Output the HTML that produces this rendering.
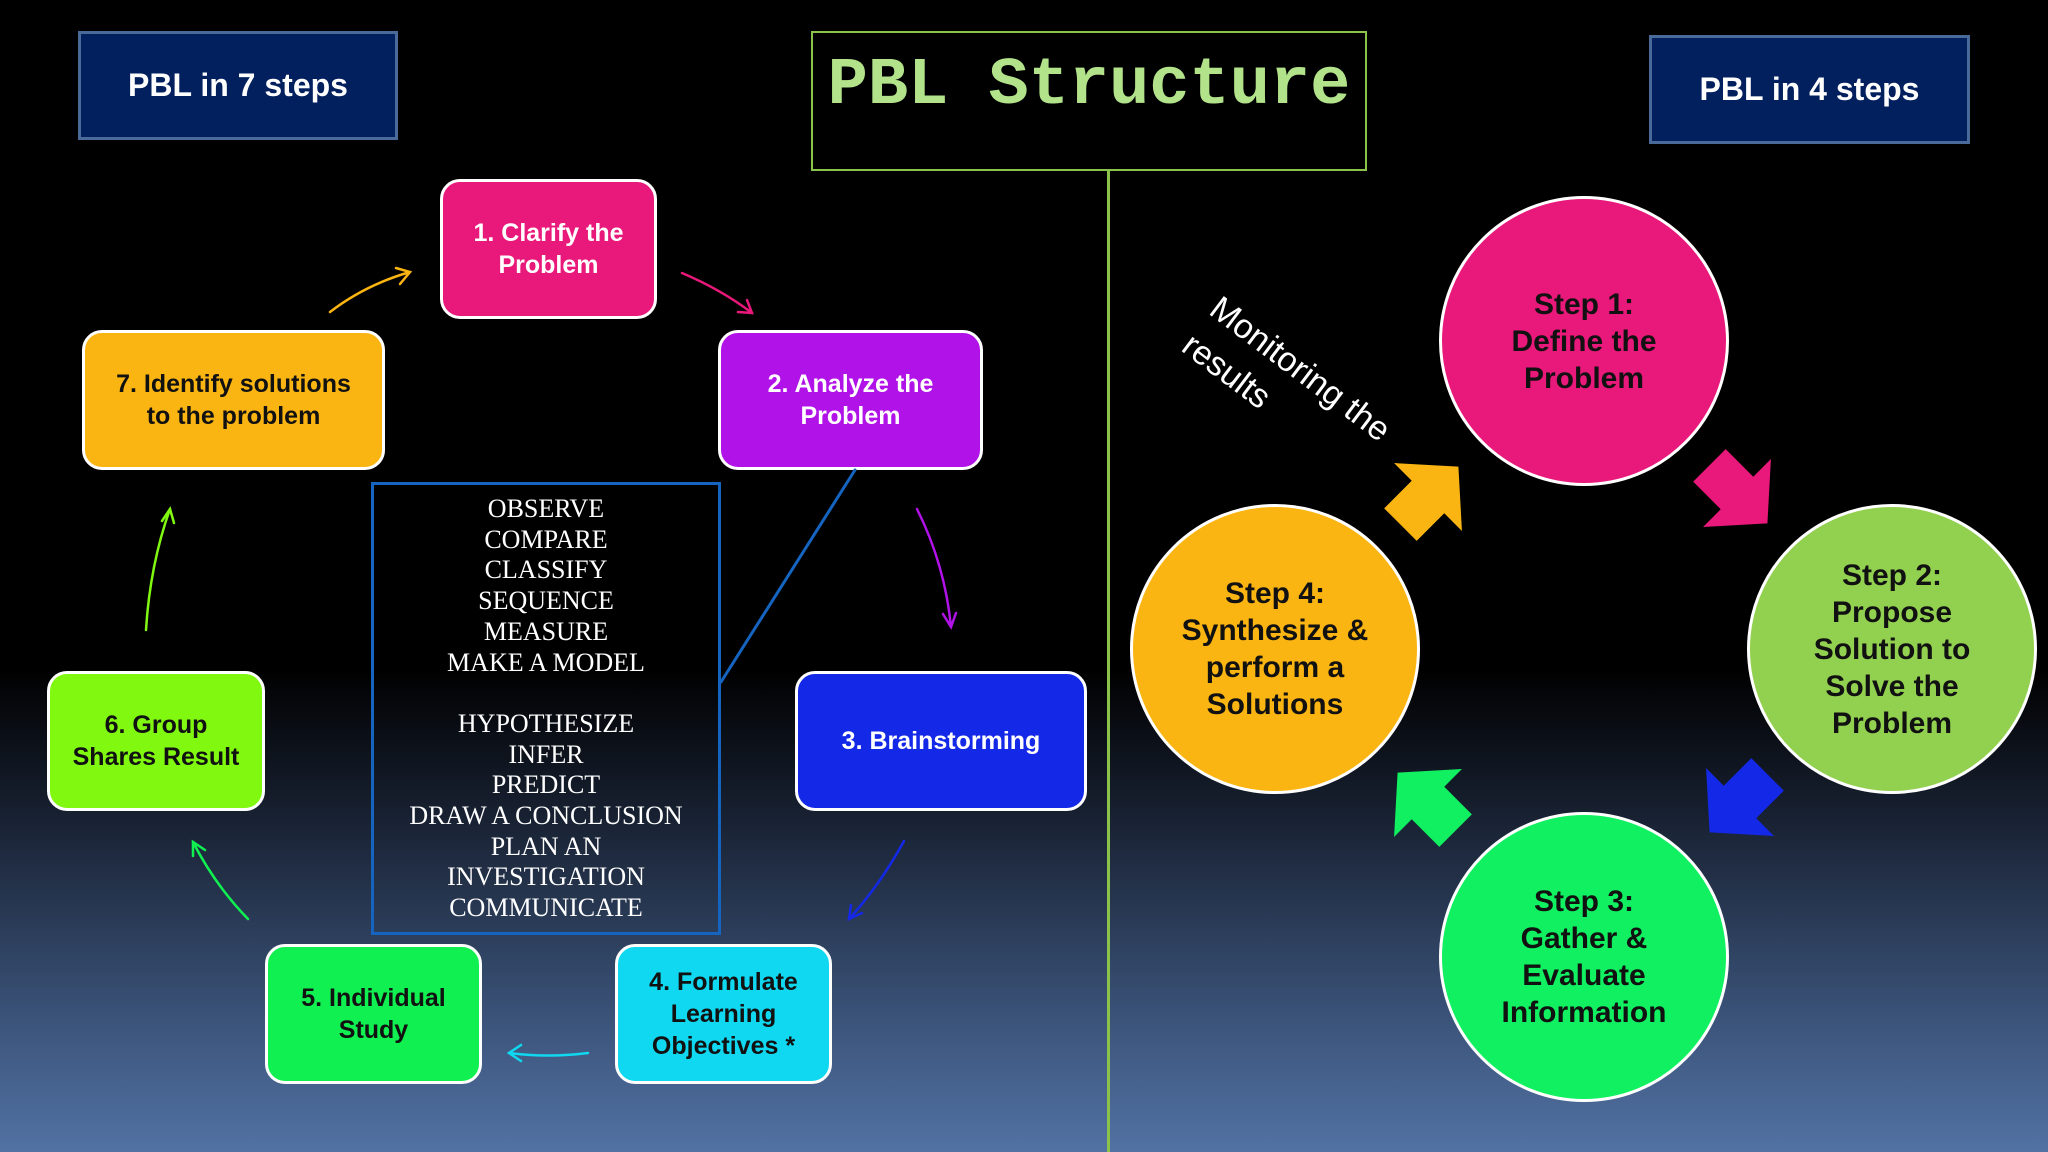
<!DOCTYPE html>
<html><head><meta charset="utf-8"><style>
html,body{margin:0;padding:0}
body{width:2048px;height:1152px;position:relative;overflow:hidden;font-family:"Liberation Sans",sans-serif;
background:linear-gradient(to bottom,#000 0%,#000 58%,#1a2436 72%,#3a5278 88%,#5272a4 100%);}
.hdr{position:absolute;background:#03205e;border:3px solid #4a6a9a;color:#fff;font-weight:bold;font-size:32px;display:flex;align-items:center;justify-content:center;box-sizing:border-box}
.box{position:absolute;border:3px solid #fff;border-radius:20px;box-sizing:border-box;display:flex;align-items:center;justify-content:center;text-align:center;font-weight:bold;font-size:25px;line-height:32px}
.circ{position:absolute;width:290px;height:290px;border-radius:50%;border:3px solid #fff;box-sizing:border-box;display:flex;align-items:center;justify-content:center;text-align:center;font-weight:bold;font-size:30px;line-height:37px;color:#111}
</style></head><body>
<div class="hdr" style="left:78px;top:31px;width:320px;height:109px">PBL in 7 steps</div>
<div class="hdr" style="left:1649px;top:35px;width:321px;height:109px">PBL in 4 steps</div>
<div style="position:absolute;left:811px;top:31px;width:556px;height:140px;border:2px solid #8bc34a;box-sizing:border-box;display:flex;align-items:center;justify-content:center;font-family:'Liberation Mono',monospace;font-weight:bold;font-size:67px;color:#b2e38a;padding-bottom:30px">PBL Structure</div>
<div style="position:absolute;left:1107px;top:171px;width:3px;height:981px;background:#8bc34a"></div>

<div class="box" style="left:440px;top:179px;width:217px;height:140px;background:#e8197a;color:#fff">1. Clarify the<br>Problem</div>
<div class="box" style="left:718px;top:330px;width:265px;height:140px;background:#b012e8;color:#fff">2. Analyze the<br>Problem</div>
<div class="box" style="left:82px;top:330px;width:303px;height:140px;background:#fbb512;color:#111">7. Identify solutions<br>to the problem</div>
<div class="box" style="left:795px;top:671px;width:292px;height:140px;background:#1428e8;color:#fff">3. Brainstorming</div>
<div class="box" style="left:47px;top:671px;width:218px;height:140px;background:#80f810;color:#111">6. Group<br>Shares Result</div>
<div class="box" style="left:265px;top:944px;width:217px;height:140px;background:#10f050;color:#111">5. Individual<br>Study</div>
<div class="box" style="left:615px;top:944px;width:217px;height:140px;background:#10d8f0;color:#111">4. Formulate<br>Learning<br>Objectives *</div>

<div style="position:absolute;left:371px;top:482px;width:350px;height:453px;border:3px solid #1464c0;box-sizing:border-box;padding-top:9px;text-align:center;color:#fff;font-family:'Liberation Serif',serif;font-size:26px;line-height:30.7px">OBSERVE<br>COMPARE<br>CLASSIFY<br>SEQUENCE<br>MEASURE<br>MAKE A MODEL<br><br>HYPOTHESIZE<br>INFER<br>PREDICT<br>DRAW A CONCLUSION<br>PLAN AN<br>INVESTIGATION<br>COMMUNICATE</div>

<svg width="2048" height="1152" style="position:absolute;left:0;top:0" xmlns="http://www.w3.org/2000/svg">
<g fill="none" stroke-width="2.5" stroke-linecap="round">
<line x1="855" y1="470" x2="721" y2="682" stroke="#1464c0" stroke-width="3"/>
<path d="M330 312 Q365 285 410 272" stroke="#fbb512"/><path d="M396 268 L410 272 L400 284" stroke="#fbb512"/>
<path d="M682 273 Q722 290 752 313" stroke="#e8197a"/><path d="M738 312 L752 313 L747 300" stroke="#e8197a"/>
<path d="M917 509 Q945 565 951 627" stroke="#b012e8"/><path d="M943 614 L951 627 L956 613" stroke="#b012e8"/>
<path d="M904 841 Q880 885 849 919" stroke="#1428e8"/><path d="M851 905 L849 919 L862 913" stroke="#1428e8"/>
<path d="M588 1053 Q548 1058 509 1053" stroke="#10d8f0"/><path d="M521 1045 L509 1053 L521 1061" stroke="#10d8f0"/>
<path d="M248 919 Q215 885 193 842" stroke="#10f050"/><path d="M193 856 L193 842 L205 850" stroke="#10f050"/>
<path d="M146 630 Q150 565 170 509" stroke="#80f810"/><path d="M162 521 L170 509 L174 523" stroke="#80f810"/>
</g>
<g>
<polygon transform="translate(1737,493) rotate(45)" points="-39,-23 0,-23 0,-48 43,0 0,48 0,23 -39,23" fill="#e8197a"/>
<polygon transform="translate(1428,497) rotate(-45)" points="-39,-23 0,-23 0,-48 43,0 0,48 0,23 -39,23" fill="#fbb512"/>
<polygon transform="translate(1740,802) rotate(135)" points="-39,-23 0,-23 0,-48 43,0 0,48 0,23 -39,23" fill="#1428e8"/>
<polygon transform="translate(1428,803) rotate(-135)" points="-39,-23 0,-23 0,-48 43,0 0,48 0,23 -39,23" fill="#10f060"/>
</g>
</svg>

<div class="circ" style="left:1439px;top:196px;background:#e8197a">Step 1:<br>Define the<br>Problem</div>
<div class="circ" style="left:1747px;top:504px;background:#92d050">Step 2:<br>Propose<br>Solution to<br>Solve the<br>Problem</div>
<div class="circ" style="left:1439px;top:812px;background:#10f060">Step 3:<br>Gather &amp;<br>Evaluate<br>Information</div>
<div class="circ" style="left:1130px;top:504px;background:#fbb512">Step 4:<br>Synthesize &amp;<br>perform a<br>Solutions</div>

<div style="position:absolute;left:1228px;top:286px;transform-origin:0 0;transform:rotate(37deg);color:#fff;font-size:34px;line-height:46px;white-space:nowrap">Monitoring the<br>results</div>
</body></html>
